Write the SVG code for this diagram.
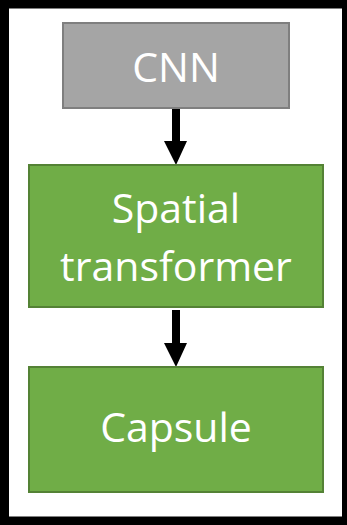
<svg xmlns="http://www.w3.org/2000/svg" width="347" height="525" viewBox="0 0 347 525">
<style>
.box{stroke-width:2}
.gray{fill:#A5A5A5;stroke:#7F7F7F}
.green{fill:#70AD47;stroke:#548235}
.lbl{font-family:"Open Sans","Liberation Sans",sans-serif;fill:#fff;font-size:41px;text-anchor:middle}
</style>
<rect x="0" y="0" width="347" height="525" fill="#fff"/>
<rect id="frame" x="4.5" y="4" width="342" height="517" fill="none" stroke="#000" stroke-width="9"/>
<g id="connectors" fill="#000">
<path d="M172,108 H180 V141 H187 L176,165 L164,141 H172 Z"/>
<path d="M172,310 H180 V343 H187 L176,367 L164,343 H172 Z"/>
</g>
<g id="cnn">
<rect class="box gray" x="63" y="23" width="226" height="85"/>
<text class="lbl" x="176" y="82">CNN</text>
</g>
<g id="spatial">
<rect class="box green" x="29" y="165" width="294" height="142"/>
<text class="lbl" x="176" y="223">Spatial</text>
<text class="lbl" x="176" y="281">transformer</text>
</g>
<g id="capsule">
<rect class="box green" x="29" y="367" width="294" height="125"/>
<text class="lbl" x="176" y="442">Capsule</text>
</g>
</svg>
